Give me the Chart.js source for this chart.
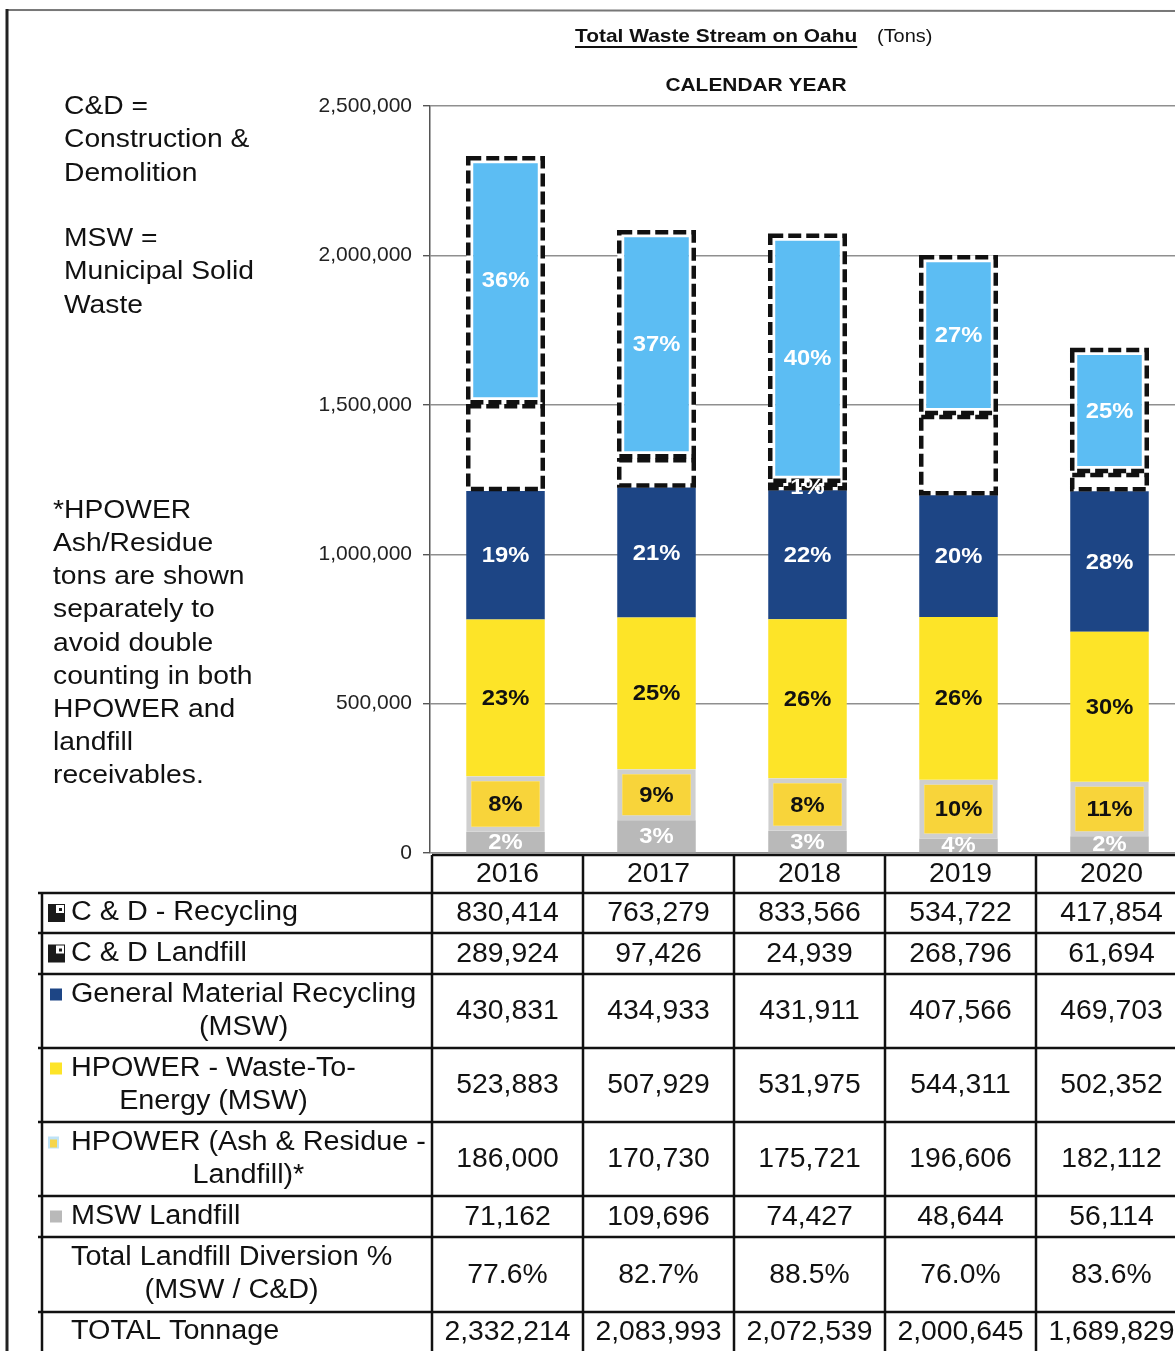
<!DOCTYPE html>
<html>
<head>
<meta charset="utf-8">
<title>Total Waste Stream on Oahu</title>
<script src="https://cdn.jsdelivr.net/npm/chart.js@4.4.1/dist/chart.umd.min.js"></script>
<style>
  html, body { margin: 0; padding: 0; background: #fff; overflow: hidden; }
  #wrap { width: 1190px; height: 1351px; }
</style>
</head>
<body>
<div id="wrap"><canvas id="wasteChart" width="1190" height="1351"></canvas></div>
<script>
// Calendar years
const years = ["2016", "2017", "2018", "2019", "2020"];

// Tons per stream (from the table)
const cdRecycling = [830414, 763279, 833566, 534722, 417854];
const cdLandfill = [289924, 97426, 24939, 268796, 61694];
const generalRecycling = [430831, 434933, 431911, 407566, 469703];
const hpowerEnergy = [523883, 507929, 531975, 544311, 502352];
const hpowerAsh = [186000, 170730, 175721, 196606, 182112];
const mswLandfill = [71162, 109696, 74427, 48644, 56114];
const diversion = ["77.6%", "82.7%", "88.5%", "76.0%", "83.6%"];
const totalTons = [2332214, 2083993, 2072539, 2000645, 1689829];

// Percent labels printed on the bars
const cdRecyclingPct = ["36%", "37%", "40%", "27%", "25%"];
const cdLandfillPct = ["", "", "1%", "", ""];
const generalPct = ["19%", "21%", "22%", "20%", "28%"];
const energyPct = ["23%", "25%", "26%", "26%", "30%"];
const ashPct = ["8%", "9%", "8%", "10%", "11%"];
const mswPct = ["2%", "3%", "3%", "4%", "2%"];

// Y axis
const yTicks = [0, 500000, 1000000, 1500000, 2000000, 2500000];

const FONT = "'Liberation Sans', Arial, Helvetica, sans-serif";

// draw text a little wider/narrower than the font, like the scanned page
function drawText(ctx, text, x, y, opts) {
  const o = Object.assign({ size: 25, weight: "normal", align: "left", color: "#111", sx: 1 }, opts || {});
  ctx.save();
  ctx.font = o.weight + " " + o.size + "px " + FONT;
  ctx.fillStyle = o.color;
  ctx.textAlign = o.align;
  ctx.textBaseline = "middle";
  ctx.translate(x, y);
  ctx.scale(o.sx, 1);
  ctx.fillText(text, 0, 0);
  const w = ctx.measureText(text).width * o.sx;
  ctx.restore();
  return w;
}

function textWidth(ctx, text, size, sx) {
  ctx.save();
  ctx.font = "normal " + size + "px " + FONT;
  const w = ctx.measureText(text).width * sx;
  ctx.restore();
  return w;
}

/**
 * Page frame, notes on the left, title
 */
const pageDecor = {
  id: "pageDecor",
  beforeDraw(chart) {
    const ctx = chart.ctx;
    ctx.save();
    ctx.fillStyle = "#fff";
    ctx.fillRect(0, 0, chart.width, chart.height);

    // frame
    ctx.strokeStyle = "#777";
    ctx.lineWidth = 2;
    ctx.beginPath();
    ctx.moveTo(6, 10);
    ctx.lineTo(chart.width, 11);
    ctx.stroke();
    ctx.strokeStyle = "#222";
    ctx.lineWidth = 3;
    ctx.beginPath();
    ctx.moveTo(7, 9);
    ctx.lineTo(7, chart.height);
    ctx.stroke();
    ctx.restore();

    const note = { size: 25, sx: 1.13 };
    ["C&D =", "Construction &", "Demolition"].forEach((t, i) =>
      drawText(ctx, t, 64, 107 + i * 33.5, note));
    ["MSW =", "Municipal Solid", "Waste"].forEach((t, i) =>
      drawText(ctx, t, 64, 239 + i * 33.5, note));
    [
      "*HPOWER", "Ash/Residue", "tons are shown", "separately to",
      "avoid double", "counting in both", "HPOWER and", "landfill", "receivables.",
    ].forEach((t, i) => drawText(ctx, t, 53, 511 + i * 33.2, note));

    // title
    const w = drawText(ctx, "Total Waste Stream on Oahu", 575, 37,
      { size: 19, weight: "bold", sx: 1.1 });
    ctx.save();
    ctx.fillStyle = "#111";
    ctx.fillRect(575, 46, w, 2);
    ctx.restore();
    drawText(ctx, "(Tons)", 877, 37, { size: 19, sx: 1.05 });
    drawText(ctx, "CALENDAR YEAR", 756, 86, { size: 19, weight: "bold", align: "center", sx: 1.1 });
  },
};

/**
 * Dashed outline around the C&D segments
 */
const dashedOutline = {
  id: "dashedOutline",
  afterDatasetsDraw(chart) {
    const ctx = chart.ctx;
    ctx.save();
    ctx.strokeStyle = "#111";
    ctx.lineWidth = 4.5;
    ctx.setLineDash([13, 5]);
    chart.data.datasets.forEach((ds, di) => {
      if (!ds.dashed) return;
      chart.getDatasetMeta(di).data.forEach((bar) => {
        const top = Math.min(bar.y, bar.base);
        const h = Math.abs(bar.base - bar.y);
        ctx.strokeRect(bar.x - bar.width / 2 + 2, top + 2, bar.width - 4, Math.max(h - 4, 1));
      });
    });
    ctx.restore();
  },
};

/**
 * Percent labels in the middle of each segment
 */
const barLabels = {
  id: "barLabels",
  afterDatasetsDraw(chart) {
    const ctx = chart.ctx;
    const area = chart.chartArea;
    ctx.save();
    ctx.beginPath();
    ctx.rect(area.left, area.top, area.right - area.left, area.bottom - area.top);
    ctx.clip();
    chart.data.datasets.forEach((ds, di) => {
      if (!ds.pct) return;
      chart.getDatasetMeta(di).data.forEach((bar, i) => {
        const txt = ds.pct[i];
        if (!txt) return;
        drawText(ctx, txt, bar.x, (bar.y + bar.base) / 2 + 1,
          { size: 22, weight: "bold", align: "center", color: ds.pctColor, sx: 1.08 });
      });
    });
    ctx.restore();
  },
};

/**
 * Data table under the chart, columns follow the x scale
 */
const rowEdges = [855, 893, 933, 974, 1048, 1122, 1196, 1237, 1312, 1351];

const tableRows = [
  { label: ["C & D - Recycling"], marker: "cd", values: cdRecycling },
  { label: ["C & D Landfill"], marker: "cd", values: cdLandfill },
  { label: ["General Material Recycling", "(MSW)"], marker: "#1d4585", values: generalRecycling },
  { label: ["HPOWER - Waste-To-", "Energy (MSW)"], marker: "#fde428", values: hpowerEnergy },
  { label: ["HPOWER (Ash & Residue -", "Landfill)*"], marker: "ash", values: hpowerAsh },
  { label: ["MSW Landfill"], marker: "#b9b9b9", values: mswLandfill },
  { label: ["Total Landfill Diversion %", "(MSW / C&D)"], marker: null, values: diversion },
  { label: ["TOTAL Tonnage"], marker: null, values: totalTons },
];

function drawMarker(ctx, kind, y) {
  ctx.save();
  if (kind === "cd") {
    ctx.fillStyle = "#1b1b1b";
    ctx.fillRect(48, y - 9, 17, 18);
    ctx.fillStyle = "#fff";
    ctx.fillRect(56, y - 8, 8, 8);
    ctx.fillStyle = "#1b1b1b";
    ctx.fillRect(59, y - 5, 3, 3);
  } else if (kind === "ash") {
    ctx.fillStyle = "#bfe3f7";
    ctx.fillRect(48, y - 6, 11, 12);
    ctx.fillStyle = "#f6d54a";
    ctx.fillRect(50, y - 3, 7, 8);
  } else if (kind) {
    ctx.fillStyle = kind;
    ctx.fillRect(50, y - 6, 12, 12);
  }
  ctx.restore();
}

const dataTable = {
  id: "dataTable",
  afterDraw(chart) {
    const ctx = chart.ctx;
    const x = chart.scales.x;
    const half = (x.getPixelForValue(1) - x.getPixelForValue(0)) / 2;
    const colEdges = years.map((_, i) => x.getPixelForValue(i) - half + 2);
    colEdges.push(x.getPixelForValue(years.length - 1) + half + 2);
    const right = chart.width;
    const bottom = chart.height;

    ctx.save();
    ctx.strokeStyle = "#111";
    ctx.lineWidth = 2.5;
    ctx.beginPath();
    // header top
    ctx.moveTo(colEdges[0], rowEdges[0]);
    ctx.lineTo(right, rowEdges[0]);
    for (let r = 1; r < rowEdges.length - 1; r++) {
      ctx.moveTo(38, rowEdges[r]);
      ctx.lineTo(right, rowEdges[r]);
    }
    ctx.moveTo(42, rowEdges[1]);
    ctx.lineTo(42, bottom);
    colEdges.forEach((cx) => {
      ctx.moveTo(cx, rowEdges[0]);
      ctx.lineTo(cx, bottom);
    });
    ctx.stroke();
    ctx.restore();

    const num = { size: 27, align: "center", sx: 1.05 };
    years.forEach((yr, i) => {
      drawText(ctx, yr, x.getPixelForValue(i) + 2, (rowEdges[0] + rowEdges[1]) / 2 + 1, num);
    });

    const lab = { size: 27, sx: 1.065 };
    tableRows.forEach((row, r) => {
      const top = rowEdges[r + 1];
      const bot = rowEdges[r + 2];
      const mid = (top + bot) / 2;
      const lineGap = 33;
      const firstY = mid - ((row.label.length - 1) * lineGap) / 2;
      const widths = row.label.map((t) => textWidth(ctx, t, lab.size, lab.sx));
      const blockW = Math.max(...widths);
      const left = 71;
      row.label.forEach((t, li) => {
        const ty = firstY + li * lineGap;
        if (row.label.length === 1) {
          drawText(ctx, t, left, ty, lab);
        } else {
          drawText(ctx, t, left + blockW / 2, ty, Object.assign({}, lab, { align: "center" }));
        }
      });
      if (row.marker) drawMarker(ctx, row.marker, firstY);

      row.values.forEach((v, i) => {
        const txt = typeof v === "number" ? v.toLocaleString("en-US") : v;
        drawText(ctx, txt, x.getPixelForValue(i) + 2, mid + 1, num);
      });
    });
  },
};

const ctx = document.getElementById("wasteChart").getContext("2d");
new Chart(ctx, {
  type: "bar",
  data: {
    labels: years,
    datasets: [
      {
        label: "MSW Landfill",
        data: mswLandfill,
        backgroundColor: "#b9b9b9",
        pct: mswPct,
        pctColor: "#fff",
      },
      {
        label: "HPOWER (Ash & Residue - Landfill)*",
        data: hpowerAsh,
        backgroundColor: "#f8d43a",
        borderColor: "#cfcfcf",
        borderWidth: 5,
        borderSkipped: false,
        pct: ashPct,
        pctColor: "#111",
      },
      {
        label: "HPOWER - Waste-To-Energy (MSW)",
        data: hpowerEnergy,
        backgroundColor: "#fde428",
        pct: energyPct,
        pctColor: "#111",
      },
      {
        label: "General Material Recycling (MSW)",
        data: generalRecycling,
        backgroundColor: "#1d4585",
        pct: generalPct,
        pctColor: "#fff",
      },
      {
        label: "C & D Landfill",
        data: cdLandfill,
        backgroundColor: "#fff",
        dashed: true,
        pct: cdLandfillPct,
        pctColor: "#fff",
      },
      {
        label: "C & D - Recycling",
        data: cdRecycling,
        backgroundColor: "#5cbdf3",
        borderColor: "#fff",
        borderWidth: 7,
        borderSkipped: false,
        dashed: true,
        pct: cdRecyclingPct,
        pctColor: "#fff",
      },
    ],
  },
  options: {
    responsive: false,
    animation: false,
    events: [],
    layout: { padding: { top: 106, right: 5, bottom: 498, left: 0 } },
    datasets: { bar: { categoryPercentage: 1, barPercentage: 0.52 } },
    plugins: { legend: { display: false }, tooltip: { enabled: false } },
    scales: {
      x: { stacked: true, display: false },
      y: {
        stacked: true,
        min: 0,
        max: 2500000,
        afterBuildTicks: (scale) => {
          scale.ticks = yTicks.map((v) => ({ value: v }));
        },
        afterFit: (scale) => {
          scale.width = 430;
        },
        border: { display: true, color: "#555", width: 1.5 },
        grid: { color: "#8f8f8f", lineWidth: 1.4, tickLength: 7, tickColor: "#555" },
        ticks: {
          padding: 11,
          color: "#222",
          font: { family: FONT, size: 21 },
          callback: (v) => v.toLocaleString("en-US"),
        },
      },
    },
  },
  plugins: [pageDecor, dashedOutline, barLabels, dataTable],
});
</script>
</body>
</html>
